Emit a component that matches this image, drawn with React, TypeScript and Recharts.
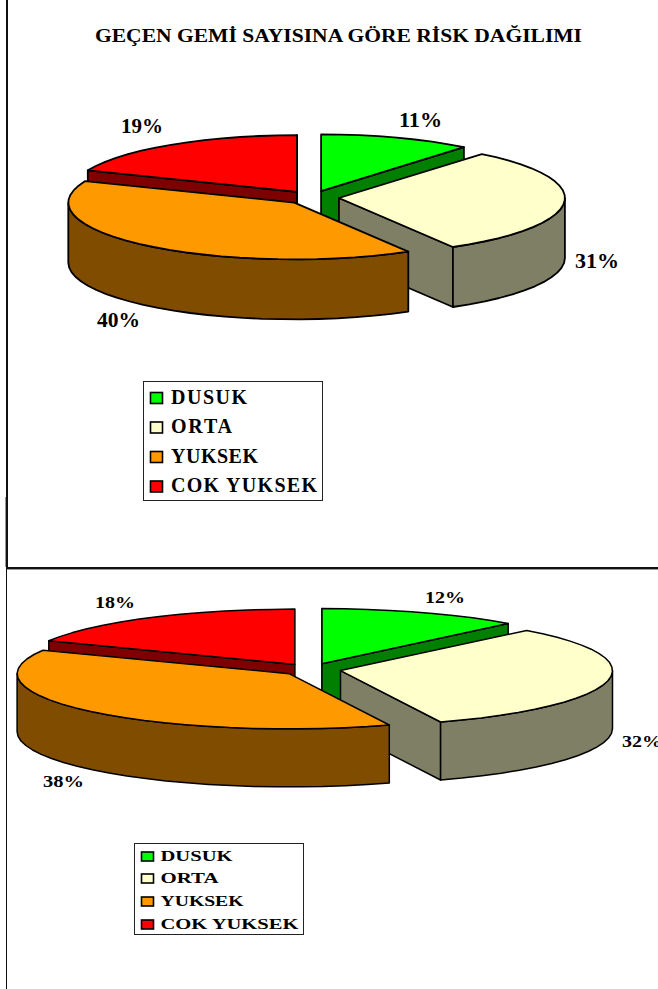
import { Cell, Legend, Pie, PieChart } from "recharts";

const categories = ["DUSUK", "ORTA", "YUKSEK", "COK YUKSEK"];
const upperValues = [11, 31, 40, 19];
const lowerValues = [12, 32, 38, 18];
const sliceColors = ["#00ff00", "#ffffcc", "#ff9900", "#ff0000"];

const SERIF = "'Liberation Serif', 'Times New Roman', serif";

// red goes first so the front slices paint over it
const DRAW_ORDER = [3, 0, 1, 2];

const rad = (deg: number) => (deg * Math.PI) / 180;

// side walls are the top colour at half brightness
function darken(hex: string) {
  const n = parseInt(hex.slice(1), 16);
  const half = (v: number) => Math.floor(v / 2).toString(16).padStart(2, "0");
  return `#${half((n >> 16) & 255)}${half((n >> 8) & 255)}${half(n & 255)}`;
}

const toPath = (pts: number[][]) =>
  "M" + pts.map((p) => `${p[0].toFixed(1)},${p[1].toFixed(1)}`).join("L") + "Z";

function Slice3D(props: any) {
  const { cx, cy, startAngle, endAngle, outerRadius, fill, flat, depth, explode, lineWidth } = props;
  const ry = outerRadius * flat;
  const mid = rad((startAngle + endAngle) / 2);
  const ax = cx + explode * Math.cos(mid);
  const ay = cy - explode * flat * Math.sin(mid);
  const rim = (deg: number, drop = 0) => [
    ax + outerRadius * Math.cos(rad(deg)),
    ay - ry * Math.sin(rad(deg)) + drop,
  ];
  // rims are short straight segments, not a true curve
  const arc = (from: number, to: number, drop = 0) => {
    const pts: number[][] = [];
    const steps = Math.max(1, Math.ceil(Math.abs(from - to) / 5));
    for (let i = 0; i <= steps; i++) pts.push(rim(from + ((to - from) * i) / steps, drop));
    return pts;
  };
  const side = darken(fill);
  const line = { stroke: "#000", strokeWidth: lineWidth, strokeLinejoin: "round" as const };
  const face = (deg: number) =>
    toPath([[ax, ay], rim(deg), rim(deg, depth), [ax, ay + depth]]);

  // the outer wall only shows on the front half of the ellipse
  const wallFrom = Math.min(startAngle, 0);
  const wallTo = Math.max(endAngle, -180);

  return (
    <g>
      {Math.cos(rad(startAngle)) < 0 && <path d={face(startAngle)} fill={side} {...line} />}
      {Math.cos(rad(endAngle)) > 0 && <path d={face(endAngle)} fill={side} {...line} />}
      {wallFrom > wallTo && (
        <path
          d={toPath([...arc(wallFrom, wallTo), ...arc(wallTo, wallFrom, depth)])}
          fill={side}
          {...line}
        />
      )}
      <path d={toPath([[ax, ay], ...arc(startAngle, endAngle)])} fill={fill} {...line} />
    </g>
  );
}

function RiskLegend({ box, swatch, rows, fontSize, adjust }: any) {
  return (
    <svg width={box.w} height={box.h} style={{ display: "block" }}>
      <rect x={0.5} y={0.5} width={box.w - 1} height={box.h - 1} fill="#fff" stroke="#222" />
      {categories.map((name, i) => (
        <g key={name}>
          <rect
            x={swatch.x}
            y={rows[i].base - swatch.h}
            width={swatch.w}
            height={swatch.h}
            fill={sliceColors[i]}
            stroke="#000"
            strokeWidth={1.6}
          />
          <text
            x={swatch.textX}
            y={rows[i].base}
            fontFamily={SERIF}
            fontWeight="bold"
            fontSize={fontSize}
            textLength={rows[i].len}
            lengthAdjust={adjust}
            fill="#000"
          >
            {name}
          </text>
        </g>
      ))}
    </svg>
  );
}

function RiskPie(props: any) {
  const { values, top, height, cx, cy, rx, flat, depth, explode, lineWidth, labels, labelSize, legend, title } = props;
  const total = values.reduce((a: number, b: number) => a + b, 0);
  const rows = DRAW_ORDER.map((i) => ({ name: categories[i], value: values[i], color: sliceColors[i], cat: i }));
  // first drawn slice ends at twelve o'clock
  const startAngle = 90 + (values[DRAW_ORDER[0]] / total) * 360;

  const renderLabel = ({ index }: any) => {
    const row = rows[index];
    const at = labels[row.cat];
    return (
      <text
        key={row.name}
        x={at.x}
        y={at.y}
        fontFamily={SERIF}
        fontWeight="bold"
        fontSize={labelSize}
        textLength={at.len}
        lengthAdjust="spacingAndGlyphs"
        fill="#000"
      >
        {`${row.value}%`}
      </text>
    );
  };

  return (
    <div style={{ position: "absolute", left: 0, top }}>
      <PieChart width={658} height={height} margin={{ top: 0, right: 0, bottom: 0, left: 0 }}>
        {title && (
          <text
            x={95}
            y={42}
            fontFamily={SERIF}
            fontWeight="bold"
            fontSize={18.5}
            textLength={487}
            lengthAdjust="spacingAndGlyphs"
            fill="#000"
          >
            {title}
          </text>
        )}
        <Pie
          data={rows}
          dataKey="value"
          nameKey="name"
          cx={cx}
          cy={cy}
          outerRadius={rx}
          startAngle={startAngle}
          endAngle={startAngle - 360}
          paddingAngle={0}
          isAnimationActive={false}
          label={renderLabel}
          labelLine={false}
          shape={(p: any) => (
            <Slice3D {...p} flat={flat} depth={depth} explode={explode} lineWidth={lineWidth} />
          )}
        >
          {rows.map((r) => (
            <Cell key={r.name} fill={r.color} />
          ))}
        </Pie>
        <Legend
          wrapperStyle={{ left: legend.box.x, top: legend.box.y, width: legend.box.w, height: legend.box.h }}
          content={() => <RiskLegend {...legend} />}
        />
      </PieChart>
    </div>
  );
}

const upperLayout = {
  top: 0,
  height: 566,
  cx: 312,
  cy: 197.5,
  rx: 226,
  flat: 0.251,
  depth: 60,
  explode: 27,
  lineWidth: 1.8,
  labelSize: 20,
  labels: [
    { x: 399, y: 127, len: 43 },
    { x: 575, y: 268, len: 44 },
    { x: 97, y: 327, len: 43 },
    { x: 121, y: 133, len: 42 },
  ],
  legend: {
    box: { x: 143, y: 381, w: 180, h: 120 },
    swatch: { x: 7.5, w: 12, h: 11, textX: 28 },
    fontSize: 20,
    adjust: "spacing",
    rows: [
      { base: 22.5, len: 76 },
      { base: 52, len: 61 },
      { base: 81.5, len: 87 },
      { base: 111, len: 146 },
    ],
  },
};

const lowerLayout = {
  top: 566,
  height: 423,
  cx: 311,
  cy: 103.5,
  rx: 272,
  flat: 0.203,
  depth: 58,
  explode: 30,
  lineWidth: 1.5,
  labelSize: 16,
  labels: [
    { x: 425, y: 37, len: 40 },
    { x: 622, y: 181, len: 40 },
    { x: 43, y: 221, len: 41 },
    { x: 95, y: 42, len: 40 },
  ],
  legend: {
    box: { x: 134, y: 277, w: 170, h: 92 },
    swatch: { x: 7.5, w: 12, h: 9, textX: 26.5 },
    fontSize: 15.5,
    adjust: "spacingAndGlyphs",
    rows: [
      { base: 18, len: 72 },
      { base: 40, len: 58 },
      { base: 63, len: 83 },
      { base: 86, len: 138 },
    ],
  },
};

export default function App() {
  return (
    <div style={{ position: "absolute", left: 0, top: 0, width: 658, height: 989, overflow: "hidden", background: "#fff" }}>
      <RiskPie values={upperValues} title="GEÇEN GEMİ SAYISINA GÖRE RİSK DAĞILIMI" {...upperLayout} />
      <RiskPie values={lowerValues} {...lowerLayout} />
      {/* frame rules between the two charts */}
      <div style={{ position: "absolute", left: 6, top: 0, width: 1.5, height: 568, background: "#111" }} />
      <div style={{ position: "absolute", left: 5, top: 497, width: 1, height: 70, background: "#999" }} />
      <div style={{ position: "absolute", left: 6, top: 567, width: 652, height: 1.5, background: "#111" }} />
      <div style={{ position: "absolute", left: 6, top: 568.5, width: 652, height: 1, background: "#999" }} />
      <div style={{ position: "absolute", left: 5.5, top: 567, width: 1.2, height: 422, background: "#111" }} />
    </div>
  );
}
